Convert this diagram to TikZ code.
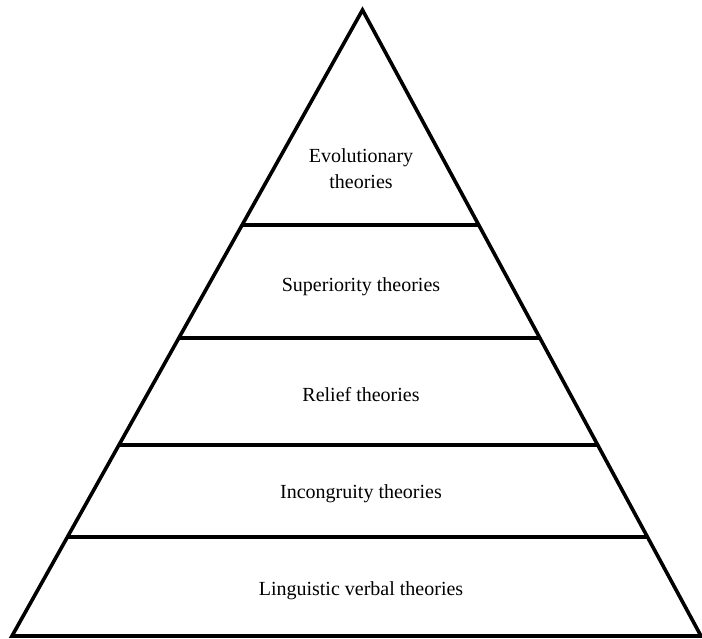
\documentclass[tikz,border=0pt]{standalone}
\usepackage{fontspec}
\setmainfont{Liberation Serif}
\usetikzlibrary{calc}
\begin{document}
\begin{tikzpicture}[x=1pt,y=-1pt,
  edge/.style={line width=3.6pt,line join=miter,line cap=butt},
  tier/.style={line width=3.4pt},
  label/.style={font=\fontsize{20}{26}\selectfont,align=center,anchor=base}]
\useasboundingbox (0,0) rectangle (702,639);
% pyramid outline
\coordinate (A) at (362.5,10);
\coordinate (L) at (12,636);
\coordinate (R) at (701,636);
\draw[edge] (A) -- (R) -- (L) -- cycle;
\draw[edge] (L) -- (703,636);
% tier separators
\foreach \t/\n in {0.6565/a,0.476/b,0.305/c,0.158/d}{
  \coordinate (l\n) at ($(L)!\t!(A)$);
  \coordinate (r\n) at ($(R)!\t!(A)$);
  \draw[tier] (l\n) -- (r\n);
}
% tier labels
\node[label] (evo) at (361,163) {Evolutionary};
\node[label] (evo2) at (361,189) {theories};
\node[label] (sup) at (361,291) {Superiority theories};
\node[label] (rel) at (361,401) {Relief theories};
\node[label] (inc) at (361,498) {Incongruity theories};
\node[label] (lin) at (361,595) {Linguistic verbal theories};
\end{tikzpicture}
\end{document}
